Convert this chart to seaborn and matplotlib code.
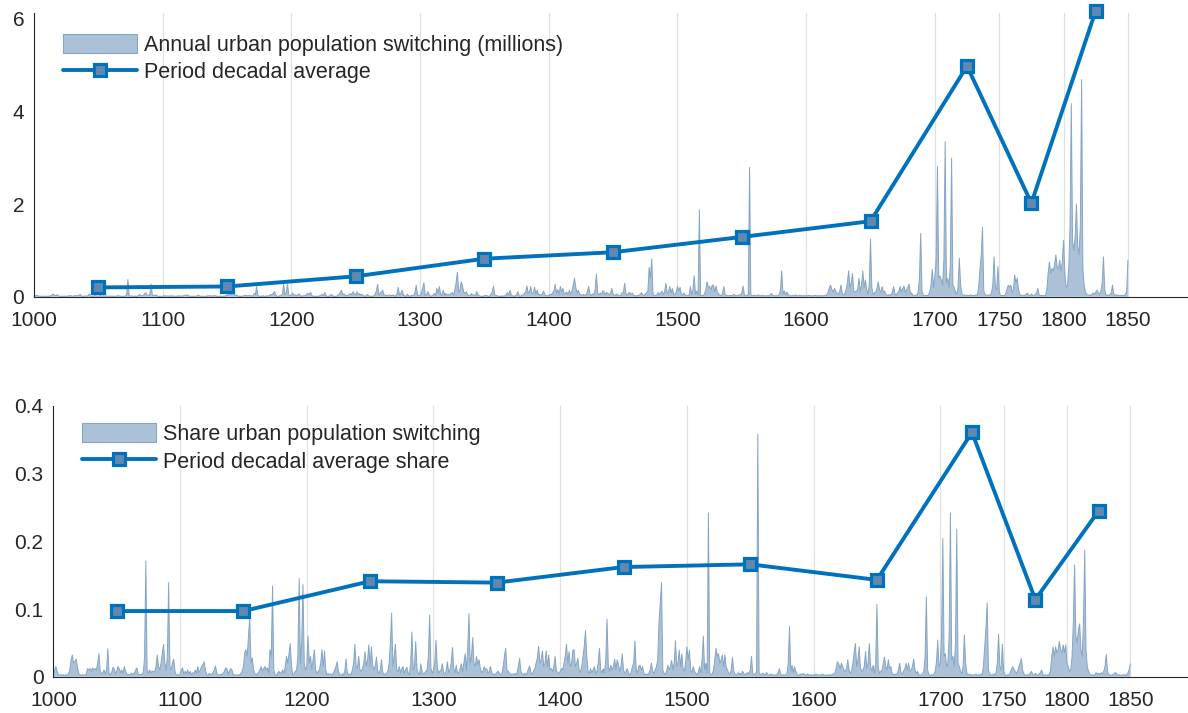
import numpy as np
import matplotlib
matplotlib.use("Agg")
import matplotlib.pyplot as plt
import seaborn as sns
from matplotlib.patches import Patch
from matplotlib.lines import Line2D

# ---------------------------------------------------------------------------
# Annual urban population switching, in hundredths of millions (1000-1850)
# ---------------------------------------------------------------------------
switch_1000s = [1,2,3,2,1,1,1,1,1,1, 1,1,1,2,4,5,3,3,4,2, 1,1,1,1,1,1,1,2,2,2,
                1,2,2,2,2,3,5,1,1,1, 2,1,2,6,1,1,1,2,2,1, 1,2,2,1,2,1,2,1,1,1,
                1,1,1,1,1,2,2,1,1,1, 1,1,5,37,2,1,2,1,1,1, 1,2,5,2,2,3,6,9,3,2,
                5,27,3,2,3,4,1,1,1,1]
switch_1100s = [1,2,2,1,2,1,2,1,2,1, 1,1,2,1,2,1,2,3,3,4, 2,1,1,1,1,1,1,2,3,1,
                1,1,1,1,1,2,2,2,1,2, 2,2,1,1,1,1,1,1,1,2, 3,5,6,5,8,11,3,4,2,1,
                1,1,1,2,3,2,2,3,2,2, 1,7,5,22,2,1,1,1,2,1, 1,2,1,3,5,4,8,11,3,1,
                1,2,2,6,27,4,9,27,4,2]
switch_1200s = [3,8,3,4,2,4,6,2,1,2, 2,3,6,7,5,9,2,1,1,1, 1,1,2,3,5,2,9,2,1,1,
                2,5,2,1,1,1,3,5,9,14, 4,6,2,2,3,5,7,4,11,6, 4,11,4,7,3,5,2,1,2,5,
                2,1,1,1,2,5,12,27,4,8, 10,14,3,4,2,3,4,2,3,4, 2,1,6,20,4,6,14,4,2,1,
                5,3,1,2,3,3,9,25,4,2]
switch_1300s = [3,8,18,30,3,4,11,5,2,1, 3,7,3,18,8,22,5,3,14,3, 7,4,5,3,7,9,3,15,30,53,
                10,15,32,22,10,6,11,4,2,3, 7,3,4,2,11,5,2,1,1,1, 2,3,2,1,1,5,10,23,4,3,
                2,1,1,1,2,1,2,5,9,3, 14,2,2,1,2,4,11,2,1,3, 4,7,10,23,8,10,22,6,8,20,
                6,14,4,5,3,6,12,4,2,2]
switch_1400s = [3,5,4,8,12,27,8,15,6,22, 10,18,6,8,10,4,14,6,12,25, 40,20,8,14,5,4,3,5,3,4,
                10,23,5,3,6,4,15,49,8,4, 8,5,13,10,5,9,7,4,8,18, 5,3,4,6,3,2,3,8,10,29,
                6,3,8,9,5,8,3,2,2,2, 3,5,9,4,3,5,8,12,63,40, 82,6,3,2,4,9,5,8,12,5,
                10,29,8,10,22,8,18,6,4,10]
switch_1500s = [22,12,20,5,3,8,4,3,2,3, 22,4,15,45,6,12,3,188,3,2, 3,6,15,32,20,22,15,25,25,10,
                23,10,6,3,3,6,22,5,3,2, 2,3,2,3,5,2,2,3,4,3, 8,23,4,2,3,5,279,4,2,3,
                3,2,3,4,2,2,3,2,2,2, 2,2,4,7,3,2,2,2,2,4, 15,56,6,13,4,10,5,2,2,2,
                3,2,4,2,2,3,2,2,2,2]
switch_1600s = [2,2,3,2,2,2,2,3,2,2, 2,2,2,2,2,3,4,8,20,25, 15,10,18,12,8,6,10,25,8,4,
                6,15,30,56,20,30,50,12,10,12, 15,40,12,25,56,20,36,15,6,25,
                124,20,5,8,10,18,32,15,10,22, 10,12,4,3,4,3,5,10,22,5,
                4,8,12,22,10,18,23,10,15,20, 27,6,8,3,2,3,4,10,40,137,
                12,3,2,3,2,4,10,25,59,20]
switch_1700s = [43,80,282,40,45,36,25,80,335,30, 40,20,70,299,25,20,10,6,20,83,
                25,6,3,4,2,3,2,3,4,2, 3,2,4,3,20,58,90,150,12,5, 3,2,4,3,8,25,86,20,15,65,
                10,3,2,3,2,6,15,25,20,25, 10,15,47,30,40,15,5,2,3,2, 3,6,8,3,2,6,3,2,5,8,
                18,4,2,3,2,3,2,15,50,75, 50,61,55,70,90,65,60,79,55,75]
switch_1800s = [122,50,20,25,60,150,417,120,100,130, 200,110,90,150,469,60,25,10,5,3,
                4,3,5,8,6,10,14,8,6,12, 30,86,15,3,4,3,4,8,25,6, 3,4,3,2,3,2,3,2,5,10,
                79]

# ---------------------------------------------------------------------------
# Annual share of urban population switching, in per mille (1000-1850)
# ---------------------------------------------------------------------------
share_1000s = [5,10,15,8,3,2,3,2,3,2, 3,2,4,10,25,32,20,22,26,15, 5,3,2,3,2,3,4,12,10,12,
               8,13,10,12,10,20,34,8,4,6, 10,5,10,41,5,3,6,14,12,5, 8,15,12,6,10,5,15,8,4,3,
               3,4,5,3,5,10,13,4,3,3, 4,6,30,171,10,5,10,6,8,8, 7,15,32,15,10,20,35,48,20,10,
               30,139,15,10,20,26,8,3,3,2]
share_1100s = [4,10,13,4,8,5,10,4,8,3, 6,4,10,5,15,6,10,15,18,22, 10,3,2,5,3,4,6,10,16,5,
               3,2,4,3,5,8,13,12,5,8, 12,10,3,3,2,3,2,3,5,8, 15,35,40,30,60,87,20,28,10,5,
               3,4,6,10,15,8,12,15,10,13, 5,40,30,134,10,3,2,5,8,5, 6,10,5,15,30,20,35,49,15,3,
               5,8,10,30,145,20,50,136,20,10]
share_1200s = [15,60,20,30,10,25,40,10,5,8, 10,20,40,15,38,10,3,5,3,4, 3,5,10,15,22,8,3,2,4,3,
               8,26,6,3,4,3,10,20,48,15, 12,30,10,8,12,20,37,15,25,47, 15,44,18,10,15,29,8,5,10,25,
               6,4,3,5,8,20,50,94,15,30, 48,10,8,15,6,12,15,5,10,14, 5,3,20,66,10,15,52,12,5,3,
               19,8,4,5,8,10,30,91,12,5]
share_1300s = [10,20,54,15,6,8,10,19,6,4, 8,22,6,10,20,43,12,6,17,5, 6,12,19,8,20,34,10,40,93,20,
               30,58,20,15,30,18,25,12,6,8, 15,10,12,5,8,15,6,3,4,3, 6,8,5,3,4,15,30,42,10,8,
               5,3,4,3,5,3,6,15,27,8, 4,3,5,3,6,12,16,5,4,8, 12,20,28,45,20,25,38,15,20,38,
               15,32,10,12,8,15,30,10,6,5]
share_1400s = [8,12,10,20,30,48,20,37,15,20, 39,40,15,20,27,10,6,15,30,45, 68,30,8,5,12,6,10,15,5,8,
               20,42,10,5,12,6,25,85,15,8, 17,10,15,26,10,25,18,8,15,34, 10,5,8,12,5,3,6,15,20,53,
               12,5,15,17,10,15,5,3,4,3, 5,10,20,8,5,10,15,25,80,109, 139,10,5,3,8,17,10,15,24,10,
               20,53,15,20,39,15,34,12,8,20]
share_1500s = [44,25,39,10,6,15,8,5,3,6, 15,5,25,60,10,20,5,242,5,3, 4,10,25,42,30,34,20,25,32,15,
               32,15,10,5,4,10,29,8,4,3, 4,6,3,5,8,4,3,5,6,4, 10,30,5,3,4,8,358,5,3,4,
               5,3,4,6,3,2,4,3,2,3, 2,3,6,12,4,2,3,2,3,5, 20,74,8,17,6,15,8,3,2,3,
               4,3,5,3,2,4,3,2,3,2]
share_1600s = [3,2,4,3,2,3,2,4,3,2, 2,3,2,3,2,4,3,6,15,22, 18,12,20,15,10,8,12,25,10,5,
               8,20,35,49,15,25,44,12,8,10, 15,37,12,20,49,15,8,17,5,20, 107,15,5,8,10,20,29,15,10,25,
               12,15,5,3,4,3,5,10,20,6, 4,8,12,20,10,20,8,10,15,26, 10,5,8,3,2,3,4,8,30,118,
               10,3,2,3,2,4,8,22,54,15]
share_1700s = [20,60,204,30,34,15,20,60,242,25, 30,15,50,218,20,15,8,5,15,62, 20,5,3,4,2,3,2,3,4,2,
               3,2,4,3,15,42,70,109,10,4, 3,2,4,3,6,20,63,15,10,48, 8,3,2,3,2,5,10,15,12,8,
               5,8,15,20,27,10,4,2,3,2, 3,5,8,3,2,5,3,2,4,6, 10,3,2,3,2,3,2,10,30,44,
               30,44,35,40,52,40,35,47,35,47]
share_1800s = [20,15,8,10,30,80,165,60,50,69, 78,40,30,80,187,40,15,8,4,2, 3,2,3,6,4,5,3,6,4,8,
               15,33,8,2,3,2,3,4,6,5, 2,3,2,2,3,2,3,2,5,10, 19]

# Period (decadal) averages
period_mid = [1050, 1150, 1250, 1350, 1450, 1550, 1650, 1725, 1775, 1825]
period_avg_millions = [0.20, 0.22, 0.44, 0.82, 0.96, 1.29, 1.63, 4.98, 2.02, 6.18]
period_avg_share = [0.097, 0.097, 0.141, 0.139, 0.162, 0.166, 0.143, 0.361, 0.114, 0.245]

x_ticks = [1000, 1100, 1200, 1300, 1400, 1500, 1600, 1700, 1750, 1800, 1850]

switch_millions = np.array(switch_1000s + switch_1100s + switch_1200s + switch_1300s +
                           switch_1400s + switch_1500s + switch_1600s + switch_1700s +
                           switch_1800s) / 100.0
share_switching = np.array(share_1000s + share_1100s + share_1200s + share_1300s +
                           share_1400s + share_1500s + share_1600s + share_1700s +
                           share_1800s) / 1000.0
years = np.arange(1000, 1000 + len(switch_millions))

# ---------------------------------------------------------------------------
sns.set_theme(style="white")
plt.rcParams["font.family"] = ["Liberation Sans", "DejaVu Sans"]

AREA_FACE = "#aac1d8"
AREA_EDGE = "#86a5c4"
LINE_BLUE = "#0072bd"
MARK_FACE = "#6189b0"
TEXT = "#262626"
GRID = "#e0e0e0"
TICK_FS = 15
LEGEND_FS = 15.5

fig = plt.figure(figsize=(11.88, 7.13), dpi=100)
# axes run past the right edge of the canvas (x range up to 1900)
ax_top = fig.add_axes([0.0286, 0.5839, 0.9750, 0.3981])
ax_bot = fig.add_axes([0.0449, 0.0509, 0.9599, 0.3798])


def draw_panel(ax, annual, avg, ylim, yticks, ylabels, labels, legend_anchor):
    for t in x_ticks:
        ax.axvline(t, color=GRID, lw=0.9, zorder=0.5)
    ax.fill_between(years, 0, annual, facecolor=AREA_FACE, edgecolor="none",
                    zorder=1)
    sns.lineplot(x=years, y=annual, color=AREA_EDGE, lw=0.7, ax=ax, zorder=1.5,
                 legend=False)
    sns.lineplot(x=period_mid, y=avg, color=LINE_BLUE, lw=2.8, marker="s",
                 markersize=8, markerfacecolor=MARK_FACE,
                 markeredgecolor=LINE_BLUE, markeredgewidth=2.3, ax=ax,
                 zorder=3, legend=False)
    for ln in ax.lines:
        ln.set_clip_on(False)

    ax.set_xlim(1000, 1900)
    ax.set_ylim(*ylim)
    ax.set_xticks(x_ticks)
    ax.set_xticklabels([str(t) for t in x_ticks])
    ax.set_yticks(yticks)
    ax.set_yticklabels(ylabels)
    ax.set_xlabel("")
    ax.set_ylabel("")
    ax.tick_params(direction="in", length=8.5, width=0.8, colors=TEXT,
                   labelsize=TICK_FS, labelcolor=TEXT)
    ax.tick_params(axis="x", pad=10)
    ax.tick_params(axis="y", pad=7)
    for side in ("top", "right"):
        ax.spines[side].set_visible(False)
    for side in ("left", "bottom"):
        ax.spines[side].set_color(TEXT)
        ax.spines[side].set_linewidth(0.8)
        ax.spines[side].set_zorder(4)

    handles = [
        Patch(facecolor=AREA_FACE, edgecolor=AREA_EDGE, lw=0.8),
        Line2D([], [], color=LINE_BLUE, lw=2.8, marker="s", markersize=8,
               markerfacecolor=MARK_FACE, markeredgecolor=LINE_BLUE,
               markeredgewidth=2.3),
    ]
    ax.legend(handles, labels, loc="upper left", bbox_to_anchor=legend_anchor,
              frameon=False, fontsize=LEGEND_FS, handlelength=3.4,
              handleheight=1.0, handletextpad=0.33, labelspacing=0.25,
              borderaxespad=0.0, labelcolor=TEXT)


draw_panel(ax_top, switch_millions, period_avg_millions, (0, 6.13),
           [0, 2, 4, 6], ["0", "2", "4", "6"],
           ["Annual urban population switching (millions)",
            "Period decadal average"], (0.018, 0.957))
draw_panel(ax_bot, share_switching, period_avg_share, (0, 0.4),
           [0, 0.1, 0.2, 0.3, 0.4], ["0", "0.1", "0.2", "0.3", "0.4"],
           ["Share urban population switching",
            "Period decadal average share"], (0.018, 0.968))

fig.savefig("out.png", dpi=100)
